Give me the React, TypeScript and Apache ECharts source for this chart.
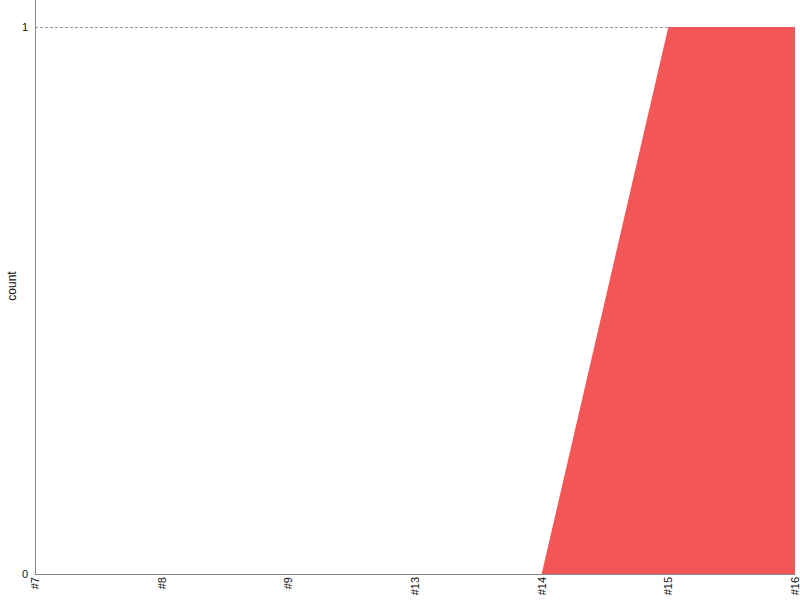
import React, { useEffect, useRef } from 'react';
import * as echarts from 'echarts';

const categories = ['#7', '#8', '#9', '#13', '#14', '#15', '#16'];
const counts = [0, 0, 0, 0, 0, 1, 1];
const yTicks = [0, 1];

const App: React.FC = () => {
  const chartRef = useRef<HTMLDivElement>(null);

  useEffect(() => {
    if (!chartRef.current) return;
    const chart = echarts.init(chartRef.current, null, { renderer: 'svg' });

    const option = {
      animation: false,
      textStyle: { fontFamily: 'Liberation Sans, Arial, sans-serif' },
      grid: {
        left: 35,
        right: 5,
        top: -2,
        bottom: 26,
        containLabel: false,
        outerBoundsMode: 'none'
      },
      xAxis: {
        type: 'category',
        data: categories,
        boundaryGap: false,
        axisLine: { lineStyle: { color: '#888', width: 1 } },
        axisTick: { show: false },
        axisLabel: { rotate: 90, margin: 3, fontSize: 11, color: '#111', interval: 0 },
        splitLine: { show: false }
      },
      yAxis: {
        type: 'value',
        min: 0,
        max: 1.053,
        interval: 1,
        name: 'count',
        nameLocation: 'middle',
        nameGap: 17,
        nameMoveOverlap: false,
        nameTextStyle: { fontSize: 12, color: '#111' },
        axisLine: { show: true, lineStyle: { color: '#888', width: 1 } },
        axisTick: { show: false },
        axisLabel: {
          fontSize: 11,
          color: '#111',
          margin: 7,
          formatter: (v: number) => (yTicks.includes(v) ? String(v) : '')
        },
        splitLine: { show: true, lineStyle: { color: '#999', type: [3, 2], width: 1 } }
      },
      series: [
        {
          type: 'line',
          data: counts,
          symbol: 'none',
          lineStyle: { width: 0 },
          areaStyle: { color: '#f25656', opacity: 1 },
          itemStyle: { color: '#f25656' },
          z: 3
        }
      ]
    };

    chart.setOption(option as any);
    return () => {
      chart.dispose();
    };
  }, []);

  return (
    <div
      ref={chartRef}
      style={{ position: 'absolute', left: 0, top: 0, width: 800, height: 600 }}
    />
  );
};

export default App;
